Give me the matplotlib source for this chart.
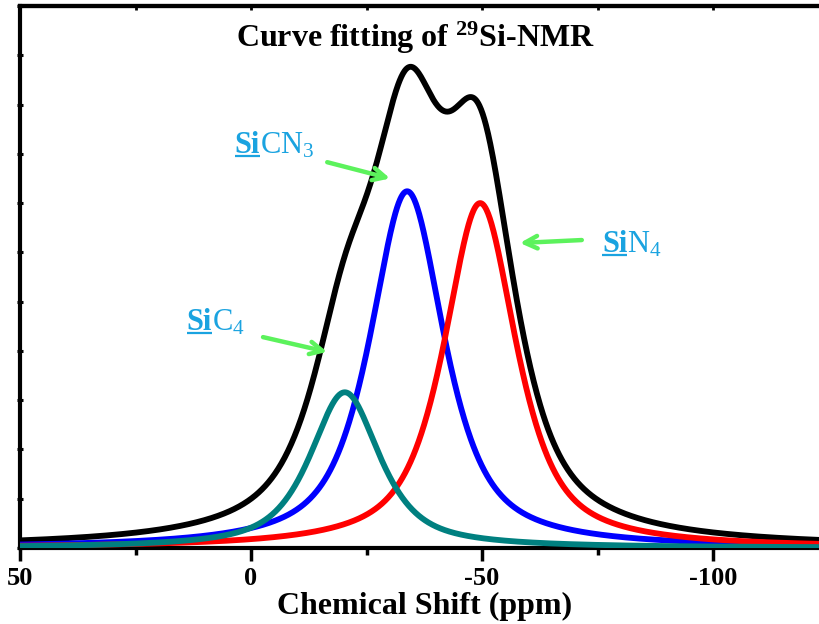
import numpy as np
import matplotlib
matplotlib.use("Agg")
import matplotlib.pyplot as plt
from matplotlib.ticker import MultipleLocator

plt.rcParams['font.family'] = ['Liberation Serif', 'DejaVu Serif']
plt.rcParams['mathtext.fontset'] = 'custom'
plt.rcParams['mathtext.rm'] = 'Liberation Serif'
plt.rcParams['mathtext.bf'] = 'Liberation Serif:bold'
plt.rcParams['mathtext.it'] = 'Liberation Serif:italic'
plt.rcParams['axes.unicode_minus'] = False

# fitted components: SiC4, SiCN3, SiN4
names = ["SiC4", "SiCN3", "SiN4"]
centers = [-20.3, -33.8, -49.6]      # ppm
heights = [3.16, 7.24, 7.0]
hwhm = [9.0, 9.6, 9.35]              # half width at half max, ppm
eta = 0.75                           # lorentzian fraction
colors = ["#008080", "#0000FF", "#FF0000"]

xticks = [50, 0, -50, -100]
xlabels = ["50", "0", "-50", "-100"]


def pvoigt(x, c, h, w):
    r2 = ((x - c) / w) ** 2
    return h * (eta / (1 + r2) + (1 - eta) * np.exp(-np.log(2) * r2))


x = np.linspace(50, -126, 1500)
comps = [pvoigt(x, c, h, w) for c, h, w in zip(centers, heights, hwhm)]
total = np.sum(comps, axis=0)

fig = plt.figure(figsize=(8.19, 6.24), dpi=100)
ax = fig.add_axes([20 / 819, 1 - 548 / 624, 808.5 / 819, 542 / 624])

lw = 4.2
ax.plot(x, total, color="black", lw=lw, zorder=3)
ax.plot(x, comps[1], color=colors[1], lw=lw, zorder=4)
ax.plot(x, comps[2], color=colors[2], lw=lw, zorder=5)
ax.plot(x, comps[0], color=colors[0], lw=lw, zorder=6)

ax.set_xlim(50, -125)
ax.set_ylim(0, 11)

for s in ["left", "bottom", "top"]:
    ax.spines[s].set_linewidth(3)
ax.spines["right"].set_visible(False)

ax.set_xticks(xticks)
ax.set_xticklabels(xlabels, fontsize=19, fontweight="bold")
ax.xaxis.set_minor_locator(MultipleLocator(25))
ax.tick_params(axis="x", which="major", direction="out", length=9, width=2.5, pad=5)
ax.tick_params(axis="x", which="minor", direction="out", length=5, width=2.5)
ax.yaxis.set_major_locator(MultipleLocator(1))
ax.tick_params(axis="y", direction="inout", length=5, width=2.2, labelleft=False)

# short inward ticks along the top frame
top = ax.secondary_xaxis("top")
top.set_xticks(xticks)
top.xaxis.set_minor_locator(MultipleLocator(25))
top.tick_params(which="both", direction="in", length=3, width=2, labeltop=False)
top.spines["top"].set_linewidth(3)

ax.set_xlabel("Chemical Shift (ppm)", fontsize=23, fontweight="bold", labelpad=1)

ax.text(-35.5, 10.16, r"Curve fitting of $^{\mathbf{29}}$Si-NMR", fontsize=23,
        fontweight="bold", ha="center", va="baseline")

lab_color = "#1AA3E0"
arrow_color = "#5CF25C"
labels = [
    (r"$\mathrm{C}_{4}$", 13.9, 4.42),
    (r"$\mathrm{CN}_{3}$", 3.5, 8.01),
    (r"$\mathrm{N}_{4}$", -76.0, 6.0),
]

fig.canvas.draw()
renderer = fig.canvas.get_renderer()
to_data = ax.transData.inverted()
for rest, lx, ly in labels:
    # bold underlined "Si", then the rest of the formula after it
    t1 = ax.text(lx, ly, "Si", fontsize=22, fontweight="bold", color=lab_color,
                 ha="left", va="baseline")
    bb = t1.get_window_extent(renderer)
    base_px = ax.transData.transform((lx, ly))[1]
    x0, _ = to_data.transform((bb.x0, base_px))
    x1, yu = to_data.transform((bb.x1, base_px - 3))
    ax.plot([x0, x1], [yu, yu], color=lab_color, lw=1.6, solid_capstyle="butt")
    ax.text(x1, ly, rest, fontsize=22, color=lab_color, ha="left", va="baseline")

arrows = [
    ((-2.6, 4.28), (-16.5, 3.98)),
    ((-16.5, 7.83), (-30.1, 7.5)),
    ((-71.6, 6.25), (-58.2, 6.19)),
]
for tail, tip in arrows:
    ax.annotate("", xy=tip, xytext=tail,
                arrowprops=dict(arrowstyle="->,head_length=0.9,head_width=0.45",
                                color=arrow_color, lw=3.2, shrinkA=0, shrinkB=0))

fig.savefig("out.png", dpi=100)
